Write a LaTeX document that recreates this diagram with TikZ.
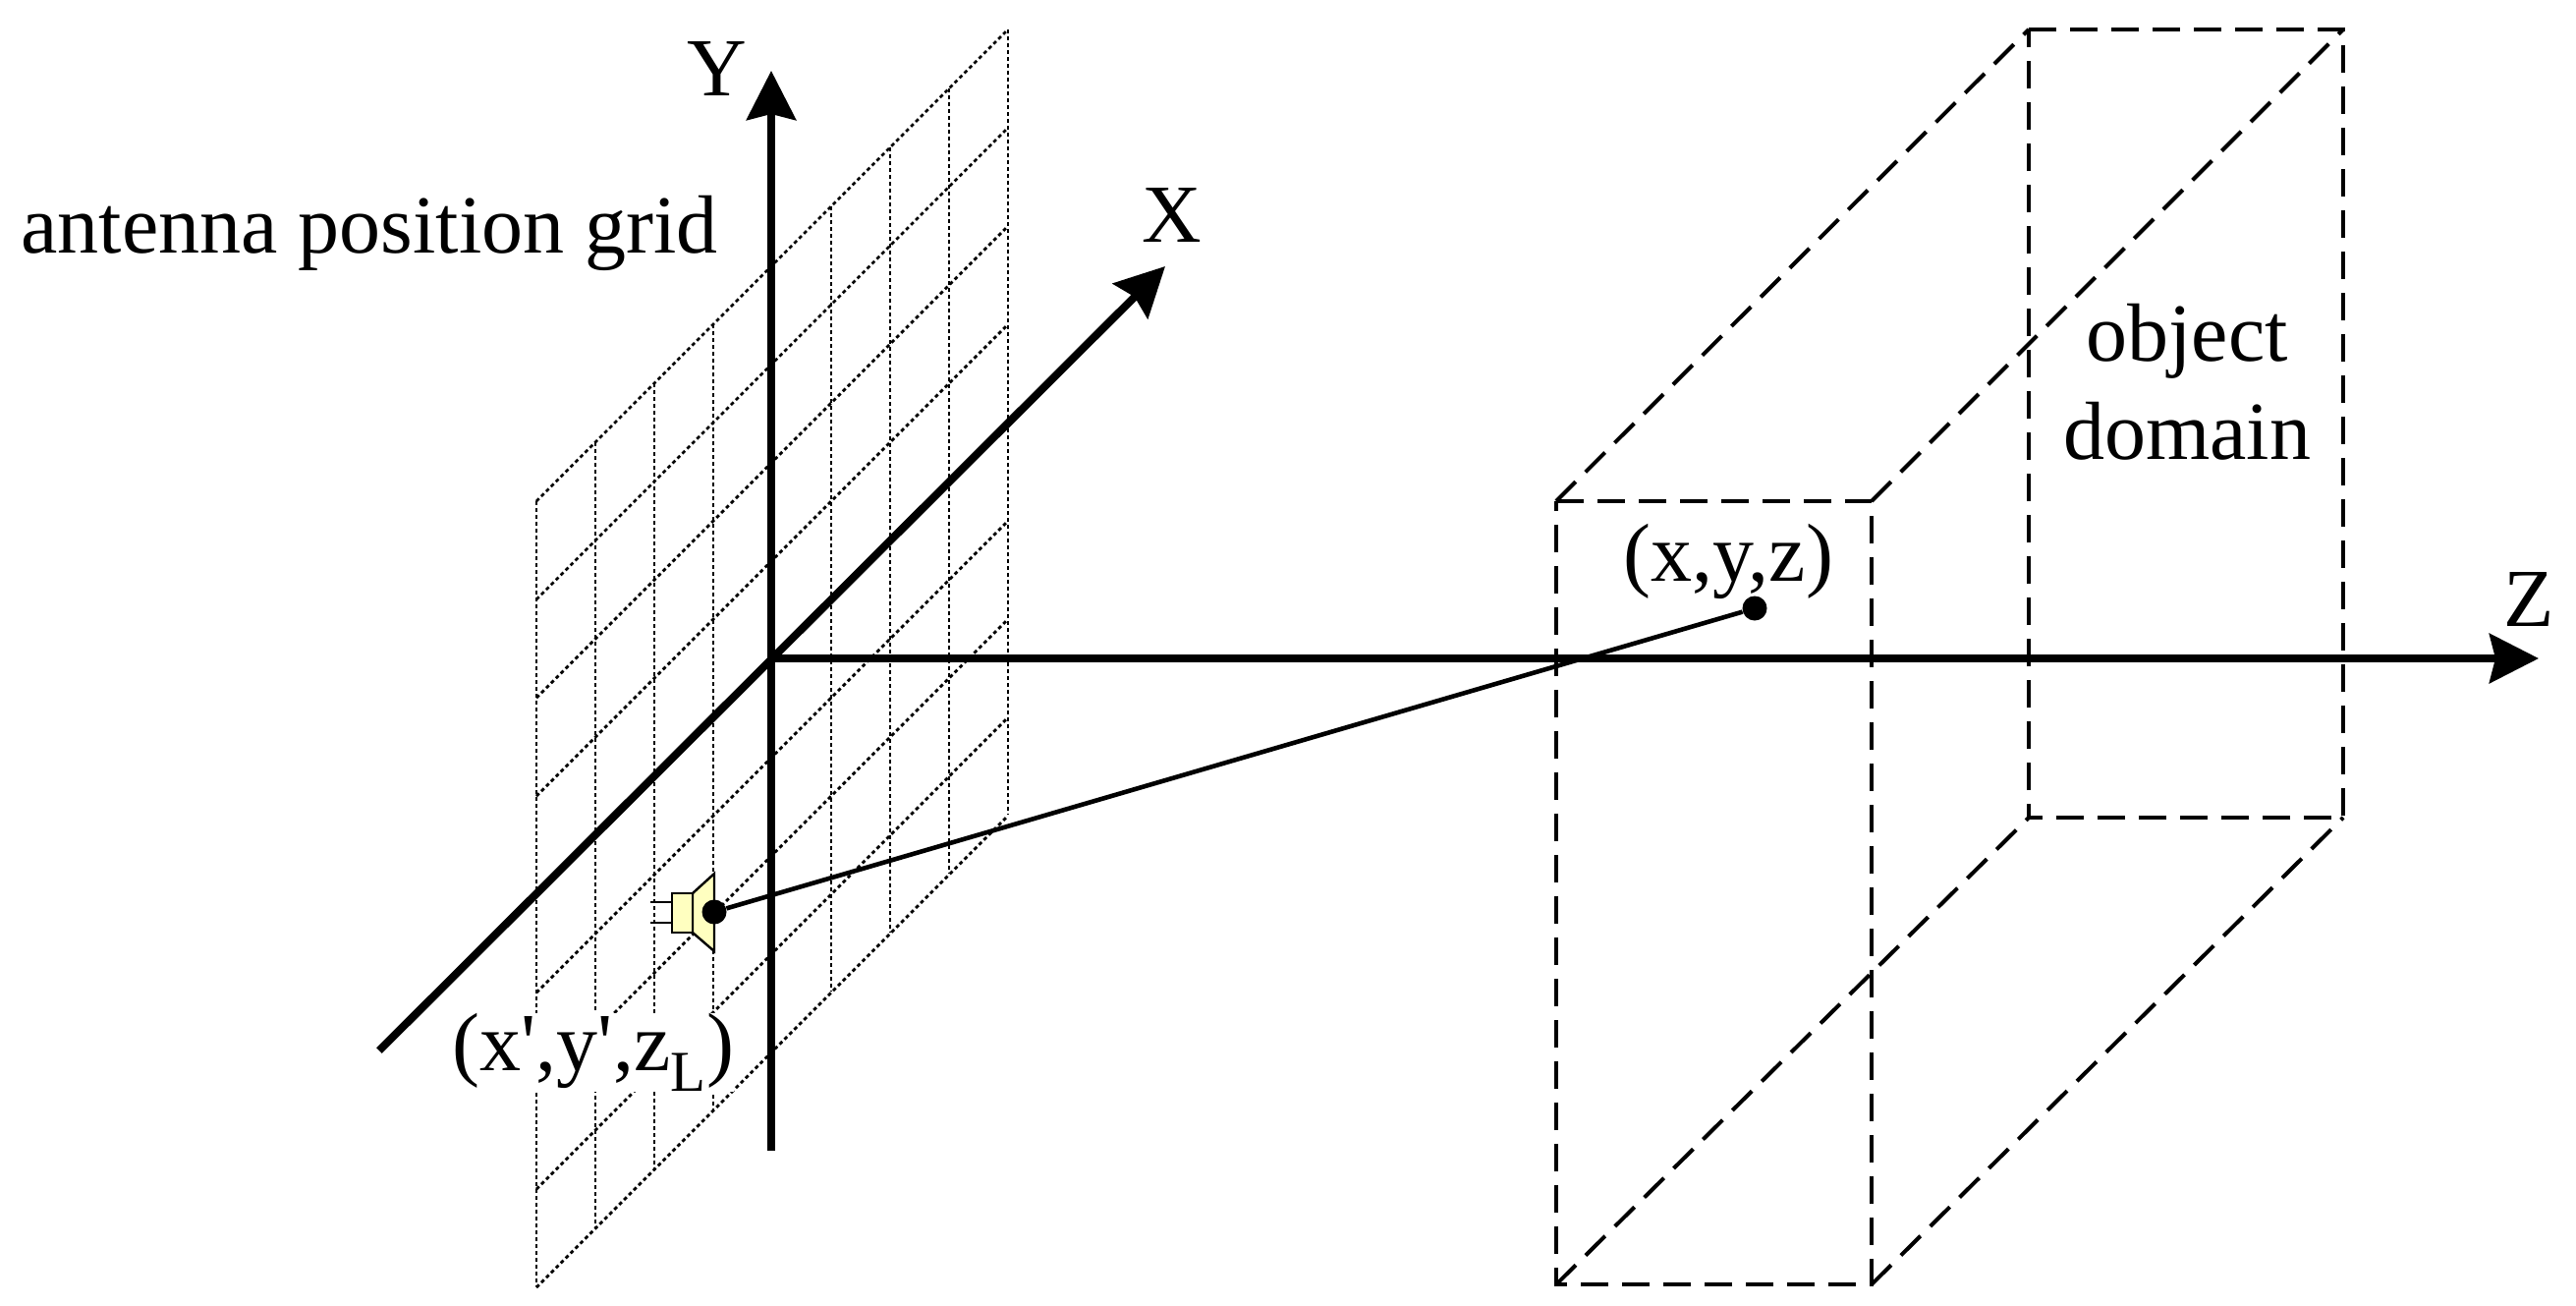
\documentclass[tikz,border=0pt]{standalone}
\usepackage{fontspec}
\setmainfont{Liberation Serif}
\usepackage{textcomp}
\usetikzlibrary{arrows,arrows.meta}
\definecolor{hornyellow}{RGB}{255,255,192}
\tikzset{
  axisline/.style={line width=4pt,-{Stealth[length=25pt,width=25pt,inset=3pt]}},
  gridline/.style={line width=1.4pt,dash pattern=on 1.9pt off 1.6pt},
  boxline/.style={line width=2pt,dash pattern=on 14pt off 7pt},
  rayline/.style={line width=2.3pt},
  hornline/.style={line width=1.2pt,draw=black,fill=hornyellow},
  dotmark/.style={circle,fill=black,inner sep=0pt,minimum size=12.5pt},
  lbl/.style={font=\fontsize{42}{50}\selectfont,inner sep=0pt,align=center}
}
\begin{document}
\begin{tikzpicture}[x=0.5pt,y=-0.5pt]
    \useasboundingbox (0,0) rectangle (2622,1328);

    % antenna grid
    \foreach \i in {0,...,8} {
      \coordinate (colt\i) at ({546+60*\i},{510-60*\i});
      \coordinate (colb\i) at ({546+60*\i},{1309-60*\i});
      \coordinate (rowl\i) at (546,{510+100*\i});
      \coordinate (rowr\i) at (1026,{30+100*\i});
      \draw[gridline] (colt\i) -- (colb\i);
      \draw[gridline] (rowl\i) -- (rowr\i);
    }

    % object domain
    \coordinate (fa) at (1584,510);
    \coordinate (fb) at (1905,510);
    \coordinate (fc) at (1905,1307);
    \coordinate (fd) at (1584,1307);
    \coordinate (ba) at (2065,30);
    \coordinate (bb) at (2385,30);
    \coordinate (bc) at (2385,832);
    \coordinate (bd) at (2065,832);
    \draw[boxline] (fa) -- (fb) -- (fc) -- (fd) -- cycle;
    \draw[boxline] (ba) -- (bb) -- (bc) -- (bd) -- cycle;
    \draw[boxline] (fa) -- (ba);
    \draw[boxline] (fb) -- (bb);
    \draw[boxline] (fc) -- (bc);
    \draw[boxline] (fd) -- (bd);

    % axes
    \coordinate (o) at (785,670);
    \coordinate (ybot) at (785,1171);
    \coordinate (ytip) at (785,72);
    \coordinate (xbot) at (386,1069);
    \coordinate (xtip) at (1186,271);
    \coordinate (ztip) at (2584,670);
    \draw[axisline] (ybot) -- (ytip);
    \draw[axisline] (xbot) -- (xtip);
    \draw[axisline] (o) -- (ztip);

    % antenna
    \draw[line width=1.2pt] (662,918) -- (684,918);
    \draw[line width=1.2pt] (662,939) -- (684,939);
    \draw[hornline] (705,909) -- (727,889) -- (727,968) -- (705,949) -- cycle;
    \draw[hornline] (684,909) rectangle (705,949);

    \node[dotmark] (ant) at (727,928) {};
    \node[dotmark] (obj) at (1786,619) {};
    \draw[rayline] (ant) -- (obj);

    \node[lbl] (ylab) at (730,70) {Y};
    \node[lbl] (xlab) at (1193,219) {X};
    \node[lbl] (zlab) at (2574,610) {Z};
    \node[lbl] (gridlab) at (376,237) {antenna position grid};
    \node[lbl] (objlab) at (2226,389) {object\\domain};
    \node[lbl] (plab) at (1759,571) {(x,y,z)};
    \node[lbl,fill=white] (alab) at (604,1071) {(x\textquotesingle,y\textquotesingle,z\textsubscript{L})};
\end{tikzpicture}
\end{document}
